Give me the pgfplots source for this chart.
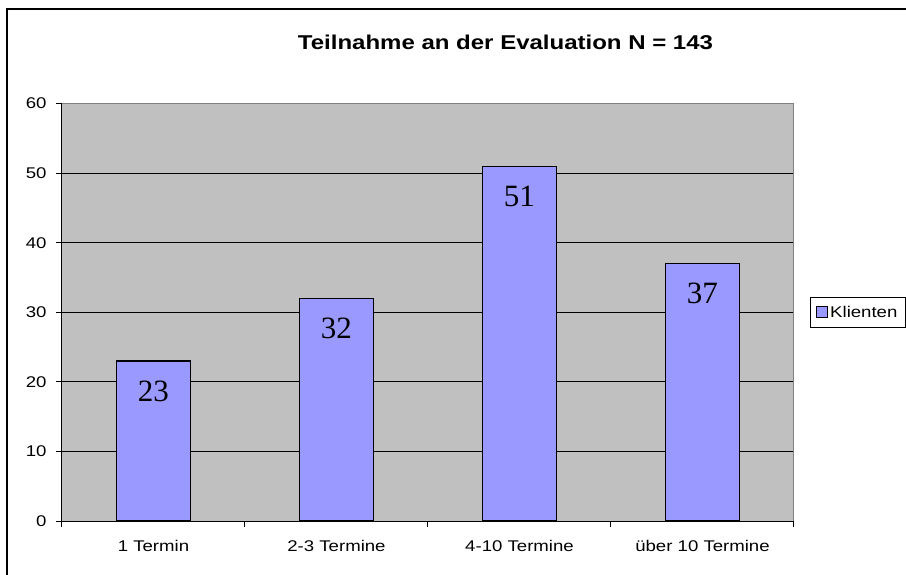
\documentclass[border=0pt]{standalone}
\usepackage{pgfplots}
\pgfplotsset{compat=1.18}
\usepackage{fontspec}
\setmainfont{Liberation Sans}[FakeStretch=1.2]
\newfontfamily\serifnum{Liberation Serif}
\definecolor{bgray}{HTML}{C0C0C0}
\definecolor{barc}{HTML}{9999FF}
\definecolor{frameg}{HTML}{808080}
\begin{document}
\begin{tikzpicture}
\path[use as bounding box] (-62pt,-53pt) rectangle (844pt,521pt);
\begin{axis}[
  at={(0pt,0pt)}, anchor=south west,
  scale only axis, width=732pt, height=417.5pt,
  xmin=0, xmax=4, ymin=0, ymax=60,
  axis background/.style={fill=bgray},
  axis x line*=bottom, axis y line*=left,
  axis line style={black, line width=1pt, -},
  /pgf/number format/assume math mode=true,
  ticklabel style={font=\fontsize{15.5}{18}\selectfont},
  xtick={0.5,1.5,2.5,3.5},
  xticklabels={1 Termin, 2-3 Termine, 4-10 Termine, über 10 Termine},
  major x tick style={draw=none},
  minor xtick={0,1,2,3,4},
  minor x tick style={black, line width=1pt},
  minor tick length=6pt,
  ytick={0,10,...,60},
  major y tick style={black, line width=1pt},
  major tick length=6pt,
  tick align=outside,
  ymajorgrids, major grid style={black, line width=1pt},
  xticklabel style={yshift=-10pt},
  yticklabel style={xshift=-6pt},
  ybar, bar width=74pt,
  nodes near coords,
  nodes near coords style={font=\serifnum\fontsize{31}{31}\selectfont, anchor=center, yshift=-30pt, text=black},
  legend style={at={(1.0219,0.5365)}, anchor=north west, draw=black, line width=0.8pt,
    font=\fontsize{15.5}{18}\selectfont, inner xsep=6pt, inner ysep=6.5pt},
  legend image code/.code={\draw[fill=barc, draw=black, line width=0.8pt] (0pt,-5.5pt) rectangle (11pt,5.5pt);},
]
\addplot[fill=barc, draw=black, line width=1.2pt] coordinates {(0.5,23) (1.5,32) (2.5,51) (3.5,37)};
\addlegendentry{Klienten}
\draw[frameg, line width=1.6pt] (rel axis cs:0,1) -- (rel axis cs:1,1) -- (rel axis cs:1,0);
\end{axis}
\node[font=\fontsize{20}{24}\selectfont\bfseries] at (443.5pt,479pt) {Teilnahme an der Evaluation N = 143};
\draw[black, line width=1.2pt] (-55pt,-60pt) -- (-55pt,512pt) -- (900pt,512pt);
\end{tikzpicture}
\end{document}
